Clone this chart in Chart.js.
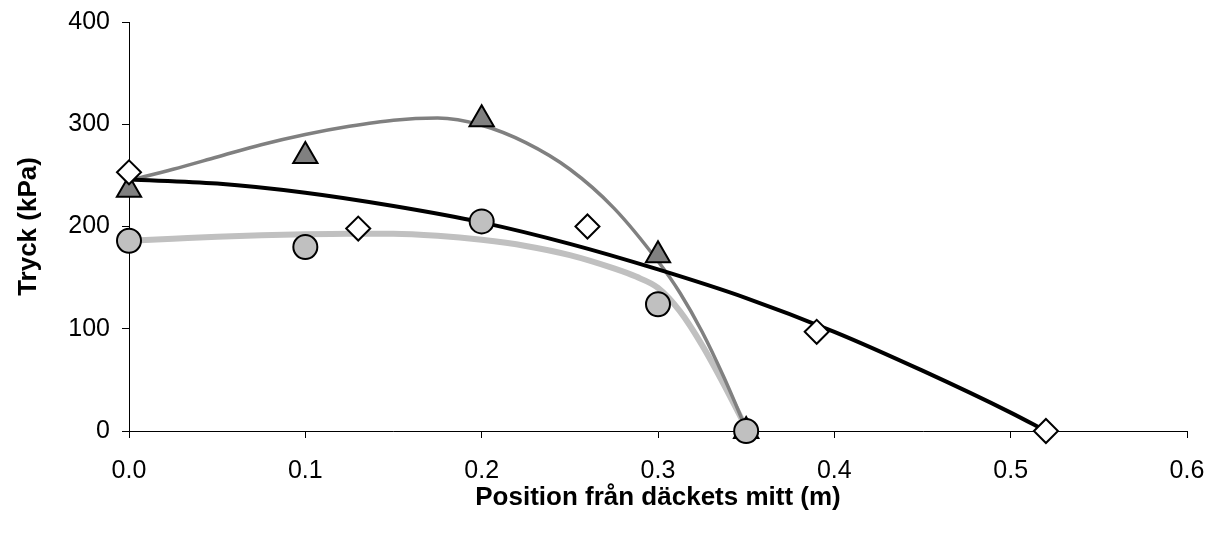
<!DOCTYPE html>
<html><head><meta charset="utf-8">
<script src="https://cdn.jsdelivr.net/npm/chart.js@4/dist/chart.umd.min.js"></script>
<style>html,body{margin:0;padding:0;background:#fff}#wrap{width:1211px;height:537px}</style>
</head><body><div id="wrap"><canvas id="c" width="1211" height="537"></canvas></div>
<script>
// Measured points
const triX = [0, 0.1, 0.2, 0.3, 0.35];
const triY = [236, 269, 305, 172, 0];
const circX = [0, 0.1, 0.2, 0.3, 0.35];
const circY = [186, 180, 205, 124, 0];
const diaX = [0, 0.13, 0.26, 0.39, 0.52];
const diaY = [253, 198, 200, 97, 0];
// Trend curves
const blackCurveX = [0, 0.05, 0.1, 0.15, 0.2, 0.25, 0.3, 0.35, 0.4, 0.45, 0.5, 0.52];
const blackCurveY = [246, 242, 233, 220, 204, 183, 158, 130, 97, 59, 18, 0];
const grayCurveX = [0, 0.025, 0.05, 0.075, 0.1, 0.125, 0.15, 0.175, 0.2, 0.225, 0.25, 0.275, 0.3, 0.3125, 0.325, 0.3375, 0.35];
const grayCurveY = [245, 256, 268, 280, 290, 298, 304, 306, 299, 282, 256, 218, 166, 135, 97, 52, 2];
const lightCurveX = [0, 0.025, 0.05, 0.075, 0.1, 0.125, 0.15, 0.175, 0.2, 0.225, 0.25, 0.275, 0.2875, 0.3, 0.3125, 0.325, 0.3375, 0.35];
const lightCurveY = [186, 188, 190, 191.5, 192.5, 193, 193, 191, 187, 181, 172, 159, 151, 140, 117, 84, 45, 3];
const xTicks = [0, 0.1, 0.2, 0.3, 0.4, 0.5, 0.6];
const yTicks = [0, 100, 200, 300, 400];
const xTitle = 'Position från däckets mitt (m)';
const yTitle = 'Tryck (kPa)';

const pts = (xs, ys) => xs.map((x, i) => ({x: x, y: ys[i]}));
const FONT = "'Liberation Sans', Arial, sans-serif";

const curve = (data, color, width, order) => ({
  data: data, showLine: true, borderColor: color, borderWidth: width,
  pointRadius: 0, pointHoverRadius: 0, fill: false,
  cubicInterpolationMode: 'monotone', order: order, borderCapStyle: 'butt', clip: false
});
const marks = (data, style, fill, r, order) => ({
  data: data, showLine: false, pointStyle: style, pointRadius: r, pointHoverRadius: r,
  pointBackgroundColor: fill, pointBorderColor: '#000', pointBorderWidth: 2, order: order, clip: false
});

new Chart(document.getElementById('c'), {
  type: 'scatter',
  data: {
    datasets: [
      curve(pts(lightCurveX, lightCurveY), '#c0c0c0', 6, 7),
      curve(pts(grayCurveX, grayCurveY), '#808080', 3.5, 6),
      curve(pts(blackCurveX, blackCurveY), '#000000', 4, 5),
      marks(pts(triX, triY), 'triangle', '#808080', 14, 3),
      marks(pts(circX, circY), 'circle', '#c0c0c0', 12, 2),
      marks(pts(diaX, diaY), 'rectRot', '#ffffff', 12, 1)
    ]
  },
  options: {
    responsive: false, animation: false, devicePixelRatio: 1,
    layout: {padding: {left: 0, right: 24, top: 22, bottom: 0}},
    plugins: {legend: {display: false}, tooltip: {enabled: false}},
    scales: {
      x: {
        type: 'linear', min: 0, max: 0.6,
        afterBuildTicks: s => { s.ticks = xTicks.map(v => ({value: v})); },
        afterFit: s => { s.height = 106; s.paddingLeft = 0; s.paddingRight = 0; },
        ticks: {color: '#000', font: {family: FONT, size: 25}, padding: 18,
          callback: v => Number(v).toFixed(1)},
        grid: {display: true, drawOnChartArea: false, drawTicks: true, tickLength: 7, color: '#000', lineWidth: 1},
        border: {display: true, color: '#000', width: 1},
        title: {display: true, text: xTitle, color: '#000',
          font: {family: FONT, size: 26, weight: 'bold'}, padding: {top: 0, bottom: 24}}
      },
      y: {
        type: 'linear', min: 0, max: 400,
        afterBuildTicks: s => { s.ticks = yTicks.map(v => ({value: v})); },
        afterFit: s => { s.width = 129; s.paddingTop = 0; s.paddingBottom = 0; },
        ticks: {color: '#000', font: {family: FONT, size: 25}, padding: 12},
        grid: {display: true, drawOnChartArea: false, drawTicks: true, tickLength: 7, color: '#000', lineWidth: 1},
        border: {display: true, color: '#000', width: 1},
        title: {display: true, text: yTitle, color: '#000',
          font: {family: FONT, size: 26, weight: 'bold'}, padding: {top: 13, bottom: 0}}
      }
    }
  }
});
</script></body></html>
